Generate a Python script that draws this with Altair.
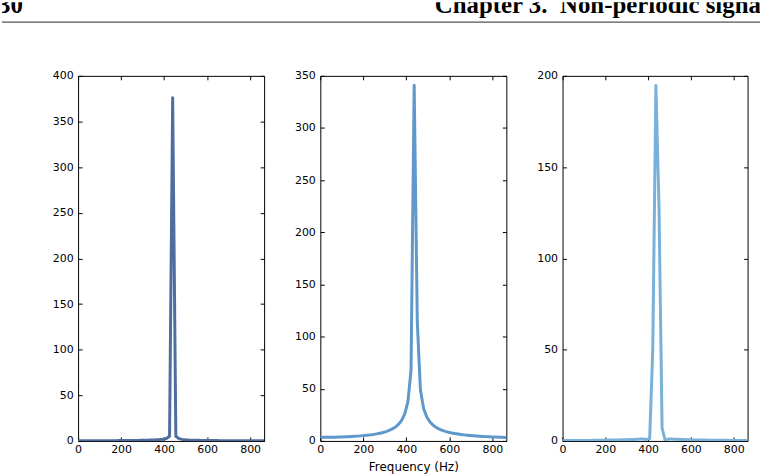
import altair as alt
import pandas as pd

# ---------------- data ----------------
freq_periodic = [0.0, 14.7, 29.3, 44.0, 58.6, 73.3, 88.0, 102.6, 117.3, 131.9,
                 146.6, 161.3, 175.9, 190.6, 205.3, 219.9, 234.6, 249.2, 263.9, 278.6,
                 293.2, 307.9, 322.5, 337.2, 351.9, 366.5, 381.2, 395.8, 410.5, 425.2,
                 439.8, 454.5, 469.2, 483.8, 498.5, 513.1, 527.8, 542.5, 557.1, 571.8,
                 586.4, 601.1, 615.8, 630.4, 645.1, 659.7, 674.4, 689.1, 703.7, 718.4,
                 733.0, 747.7, 762.4, 777.0, 791.7, 806.4, 821.0, 835.7, 850.3, 865.0]
amp_periodic = [0.25, 0.25, 0.25, 0.25, 0.26, 0.26, 0.27, 0.28, 0.29, 0.30,
                0.31, 0.32, 0.34, 0.36, 0.38, 0.41, 0.44, 0.48, 0.52, 0.58,
                0.64, 0.71, 0.79, 0.9, 1.05, 1.25, 1.5, 1.9, 2.7, 5.2,
                376.0, 5.1, 2.5, 1.65, 1.25, 1.0, 0.84, 0.72, 0.63, 0.56,
                0.5, 0.46, 0.42, 0.38, 0.36, 0.33, 0.31, 0.29, 0.28, 0.26,
                0.25, 0.24, 0.23, 0.22, 0.21, 0.2, 0.2, 0.19, 0.18, 0.18]

freq_segment = [0.0, 14.5, 29.1, 43.6, 58.2, 72.7, 87.3, 101.8, 116.4, 130.9,
                145.5, 160.0, 174.5, 189.1, 203.6, 218.2, 232.7, 247.3, 261.8, 276.4,
                290.9, 305.4, 320.0, 334.5, 349.1, 363.6, 378.2, 392.7, 407.3, 421.8,
                436.4, 450.9, 465.4, 480.0, 494.5, 509.1, 523.6, 538.2, 552.7, 567.3,
                581.8, 596.3, 610.9, 625.4, 640.0, 654.5, 669.1, 683.6, 698.2, 712.7,
                727.3, 741.8, 756.3, 770.9, 785.4, 800.0, 814.5, 829.1, 843.6, 858.2,
                872.7]
amp_segment = [3.46, 3.47, 3.49, 3.52, 3.57, 3.64, 3.72, 3.81, 3.93, 4.06,
               4.22, 4.40, 4.61, 4.85, 5.12, 5.44, 5.81, 6.24, 6.75, 7.35,
               8.07, 8.96, 10.06, 11.47, 13.35, 15.94, 19.75, 25.92, 37.58, 67.9,
               340.9, 114.1, 49.1, 31.38, 23.11, 18.32, 15.20, 13.01, 11.38, 10.12,
               9.12, 8.31, 7.64, 7.07, 6.58, 6.16, 5.79, 5.47, 5.18, 4.93,
               4.70, 4.49, 4.30, 4.12, 3.97, 3.82, 3.68, 3.56, 3.44, 3.34,
               3.23]
amp_hamming = [0.3, 0.3, 0.3, 0.3, 0.3, 0.3, 0.3, 0.3, 0.3, 0.3,
               0.35, 0.36, 0.38, 0.4, 0.42, 0.45, 0.48, 0.51, 0.55, 0.59,
               0.63, 0.7, 0.76, 0.84, 0.93, 1.02, 1.06, 0.84, 1.26, 50.3,
               194.7, 128.7, 7.0, 0.31, 1.02, 1.05, 0.98, 0.9, 0.83, 0.75,
               0.66, 0.61, 0.57, 0.53, 0.5, 0.47, 0.45, 0.43, 0.41, 0.38,
               0.34, 0.33, 0.32, 0.31, 0.3, 0.28, 0.27, 0.26, 0.25, 0.24,
               0.24]

x_ticks = [0, 200, 400, 600, 800]
y_ticks_1 = [0, 50, 100, 150, 200, 250, 300, 350, 400]
y_ticks_2 = [0, 50, 100, 150, 200, 250, 300, 350]
y_ticks_3 = [0, 50, 100, 150, 200]

header_page = "30"
header_chapter = "Chapter 3.\u00a0 Non-periodic signals"
x_title = "Frequency (Hz)"

FONT = "DejaVu Sans"
X_MAX = 865


def panel(freqs, amps, y_max, y_ticks, color, width, title=None):
    df = pd.DataFrame({"freq": freqs, "amp": amps})
    xscale = alt.Scale(domain=[0, X_MAX], nice=False, zero=False)
    yscale = alt.Scale(domain=[0, y_max], nice=False, zero=False)
    common = dict(offset=-4, tickSize=4, tickColor="black", domain=False,
                  grid=False, labelFont=FONT, labelFontSize=11,
                  labelColor="black")
    xaxis_kwargs = dict(values=x_ticks, labelPadding=3, labelFlush=False,
                        labelOverlap=False, **common)
    if title:
        xaxis = alt.Axis(title=title, titleFont=FONT, titleFontSize=12,
                         titleFontWeight="normal", titleColor="black",
                         titlePadding=7, **xaxis_kwargs)
    else:
        xaxis = alt.Axis(title=None, **xaxis_kwargs)
    yaxis = alt.Axis(values=y_ticks, title=None, labelPadding=5,
                     labelFlush=False, labelOverlap=False, **common)
    line = alt.Chart(df).mark_line(
        color=color, strokeWidth=3, clip=True, strokeJoin="round"
    ).encode(
        x=alt.X("freq:Q", scale=xscale, axis=xaxis),
        y=alt.Y("amp:Q", scale=yscale, axis=yaxis),
    )
    frame_axes = alt.Chart(df).mark_line(opacity=0, clip=True).encode(
        x=alt.X("freq:Q", axis=alt.Axis(orient="top", values=x_ticks,
                                        labels=False, title=None,
                                        offset=-4, tickSize=4,
                                        tickColor="black", domain=False,
                                        grid=False)),
        y=alt.Y("amp:Q", axis=alt.Axis(orient="right", values=y_ticks,
                                       labels=False, title=None,
                                       offset=-4, tickSize=4,
                                       tickColor="black", domain=False,
                                       grid=False)),
    )
    return alt.layer(line, frame_axes).resolve_axis(
        x="independent", y="independent"
    ).properties(
        width=width, height=367,
        view=alt.ViewBackground(stroke="black", strokeWidth=1, fill="white"),
    )


p1 = panel(freq_periodic, amp_periodic, 400, y_ticks_1, "#4F6D9E", 187)
p2 = panel(freq_segment, amp_segment, 350, y_ticks_2, "#5F98CA", 187, x_title)
p3 = panel(freq_segment, amp_hamming, 200, y_ticks_3, "#79B1D9", 186)

blank = pd.DataFrame({"t": [""]})
spacer = alt.Chart(blank).mark_point(opacity=0).encode(
    x=alt.value(10), y=alt.value(100)
).properties(width=19.5, height=367,
             view=alt.ViewBackground(stroke="transparent"))

hdr_df = pd.DataFrame({"page": [header_page], "chapter": [header_chapter]})
hdr_base = alt.Chart(hdr_df)
hdr_page = hdr_base.mark_text(
    align="right", baseline="alphabetic", font="Liberation Serif",
    fontWeight="bold", fontSize=25, color="black", clip=True
).encode(text="page:N", x=alt.value(21), y=alt.value(11))
hdr_chap = hdr_base.mark_text(
    align="left", baseline="alphabetic", font="Liberation Serif",
    fontWeight="bold", fontSize=25, color="black", clip=True
).encode(text="chapter:N", x=alt.value(435), y=alt.value(11))
hdr_rule = hdr_base.mark_rule(color="#555555", strokeWidth=1.4).encode(
    x=alt.value(0), x2=alt.value(762), y=alt.value(20), y2=alt.value(20)
)
header = alt.layer(hdr_rule, hdr_page, hdr_chap).properties(
    width=762, height=21, view=alt.ViewBackground(stroke="transparent")
)

row = alt.hconcat(spacer, p1, p2, p3, spacing=56.5, bounds="flush")
chart = alt.vconcat(header, row, spacing=53, bounds="flush").properties(
    padding=0, background="white"
).configure_view(stroke="transparent")

chart.save("out.html", embed_options={"renderer": "svg", "actions": False})
